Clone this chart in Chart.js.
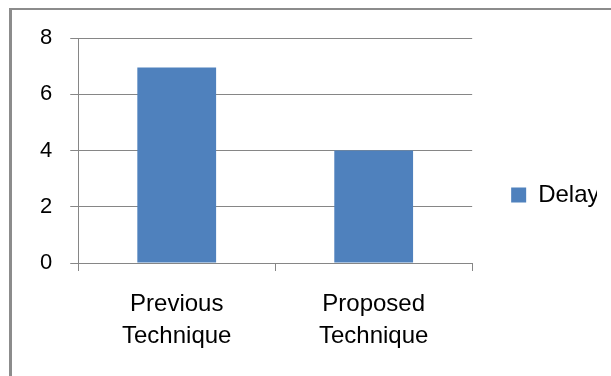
<!DOCTYPE html>
<html>
<head>
<meta charset="utf-8">
<script src="https://cdn.jsdelivr.net/npm/chart.js@4/dist/chart.umd.min.js"></script>
<style>
  html, body { margin: 0; padding: 0; background: #fff; }
  canvas { display: block; }
</style>
</head>
<body>
<canvas id="delayChart" width="611" height="376"></canvas>
<script>
// data
const categories = [['Previous', 'Technique'], ['Proposed', 'Technique']];
const seriesName = 'Delay';
const delayValues = [6.95, 4];
const yTicks = [0, 2, 4, 6, 8];

const FONT = '"Liberation Sans", Arial, sans-serif';
const GRID = '#868686';

// the grey frame that only shows on the top and left edge
const framePlugin = {
  id: 'frame',
  afterDraw(chart) {
    const ctx = chart.ctx;
    ctx.save();
    ctx.strokeStyle = '#8c8c8c';
    ctx.lineWidth = 2;
    ctx.beginPath();
    ctx.moveTo(9, 9);
    ctx.lineTo(611, 9);
    ctx.stroke();
    ctx.lineWidth = 3;
    ctx.beginPath();
    ctx.moveTo(10.5, 8);
    ctx.lineTo(10.5, 376);
    ctx.stroke();
    ctx.restore();
  }
};

new Chart(document.getElementById('delayChart'), {
  type: 'bar',
  data: {
    labels: categories,
    datasets: [{
      label: seriesName,
      data: delayValues,
      backgroundColor: '#4f81bd',
      borderWidth: 0,
      categoryPercentage: 1,
      barPercentage: 0.4
    }]
  },
  options: {
    responsive: false,
    animation: false,
    // left padding is on top of the half-label overflow chart.js reserves
    layout: { padding: { left: 22, top: 38, right: 14, bottom: 24 } },
    plugins: {
      tooltip: { enabled: false },
      legend: {
        position: 'right',
        labels: {
          boxWidth: 15,
          boxHeight: 15,
          padding: 10,
          color: '#000',
          font: { family: FONT, size: 24 }
        }
      }
    },
    scales: {
      x: {
        offset: true,
        grid: {
          offset: true,
          drawOnChartArea: false,
          drawTicks: true,
          tickLength: 8,
          color: GRID
        },
        border: { color: GRID, width: 1 },
        ticks: {
          color: '#000',
          padding: 17,
          maxRotation: 0,
          font: { family: FONT, size: 24, lineHeight: 1.33 }
        },
        afterFit(scale) { scale.height = 89; }
      },
      y: {
        min: 0,
        max: 8,
        afterBuildTicks(scale) { scale.ticks = yTicks.map(v => ({ value: v })); },
        grid: { color: GRID, tickLength: 8, lineWidth: 1 },
        border: { color: GRID, width: 1 },
        ticks: {
          color: '#000',
          padding: 18,
          font: { family: FONT, size: 22 }
        }
      },
      // empty spacer between the plot and the legend
      gap: {
        type: 'linear',
        position: 'right',
        display: true,
        grid: { display: false },
        border: { display: false },
        ticks: { display: false },
        afterFit(scale) { scale.width = 29; }
      }
    }
  },
  plugins: [framePlugin]
});
</script>
</body>
</html>
